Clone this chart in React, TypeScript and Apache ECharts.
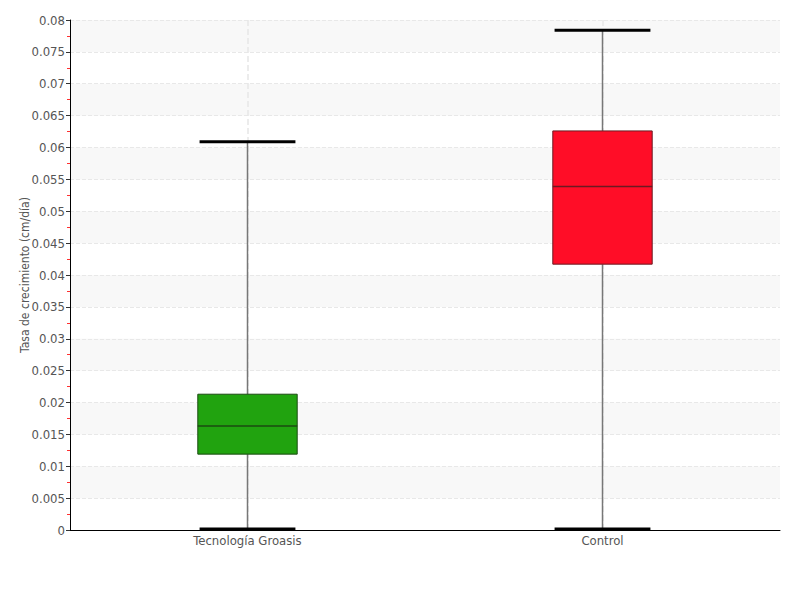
import React, { useEffect, useRef } from "react";
import * as echarts from "echarts";

const categories = ["Tecnología Groasis", "Control"];
// [min, Q1, median, Q3, max]
const boxValues = [
  [0.00015, 0.0119, 0.0163, 0.0213, 0.0609],
  [0.00015, 0.0417, 0.0539, 0.0626, 0.0784],
];
const boxColors = ["#21a30f", "#ff0d27"];
const boxBorders = ["#1b4a12", "#6b1a22"];

export default function App() {
  const ref = useRef<HTMLDivElement>(null);
  useEffect(() => {
    if (!ref.current) return;
    const chart = echarts.init(ref.current, null, { renderer: "svg" });
    const font = "'DejaVu Sans Condensed', 'Liberation Sans Narrow', sans-serif";
    chart.setOption({
      animation: false,
      grid: { left: 70, right: 20, top: 20, bottom: 70 },
      xAxis: {
        type: "category",
        data: categories,
        axisLine: { lineStyle: { color: "#000", width: 1 } },
        axisTick: { show: false, alignWithLabel: true },
        axisLabel: { color: "#555", fontSize: 13, fontFamily: font, margin: 4 },
        splitLine: { show: true, alignWithLabel: true, lineStyle: { color: "#e6e6e6", type: "dashed", width: 1.5 } },
      },
      yAxis: {
        type: "value",
        min: 0,
        max: 0.08,
        interval: 0.005,
        name: "Tasa de crecimiento (cm/día)",
        nameLocation: "middle",
        nameGap: 39,
        nameMoveOverlap: false,
        nameTextStyle: { color: "#555", fontSize: 12, fontFamily: font },
        axisLine: { show: true, lineStyle: { color: "#000", width: 1 } },
        axisTick: { show: true, length: 4, lineStyle: { color: "#333" } },
        minorTick: { show: true, splitNumber: 2, length: 3, lineStyle: { color: "#ff3030" } },
        axisLabel: { color: "#555", fontSize: 13, fontFamily: font, margin: 5 },
        splitLine: { show: true, lineStyle: { color: "#e8e8e8", type: "dashed", width: 1 } },
        splitArea: { show: true, areaStyle: { color: ["rgba(255,255,255,0)", "#f8f8f8"] } },
      },
      series: [
        {
          type: "custom",
          data: boxValues.map((v, i) => [i, ...v]),
          encode: { x: 0, y: [1, 2, 3, 4, 5] },
          renderItem: (params: any, api: any) => {
            const i = api.value(0);
            const mn = api.coord([i, api.value(1)]);
            const q1 = api.coord([i, api.value(2)]);
            const md = api.coord([i, api.value(3)]);
            const q3 = api.coord([i, api.value(4)]);
            const mx = api.coord([i, api.value(5)]);
            const bw = api.size([1, 0])[0];
            const half = bw * 0.14;
            const capHalf = bw * 0.135;
            const cx = mn[0];
            return {
              type: "group",
              children: [
                { type: "line", shape: { x1: cx, y1: mx[1], x2: cx, y2: q3[1] }, style: { stroke: "#777", lineWidth: 1.5 } },
                { type: "line", shape: { x1: cx, y1: q1[1], x2: cx, y2: mn[1] }, style: { stroke: "#777", lineWidth: 1.5 } },
                { type: "rect", shape: { x: cx - half, y: q3[1], width: half * 2, height: q1[1] - q3[1] }, style: { fill: boxColors[i], stroke: boxBorders[i], lineWidth: 1 } },
                { type: "line", shape: { x1: cx - half, y1: md[1], x2: cx + half, y2: md[1] }, style: { stroke: boxBorders[i], lineWidth: 1.5 } },
                { type: "line", shape: { x1: cx - capHalf, y1: mx[1], x2: cx + capHalf, y2: mx[1] }, style: { stroke: "#000", lineWidth: 3 } },
                { type: "line", shape: { x1: cx - capHalf, y1: mn[1], x2: cx + capHalf, y2: mn[1] }, style: { stroke: "#000", lineWidth: 3 } },
              ],
            };
          },
        },
      ],
    });
    return () => chart.dispose();
  }, []);
  return <div ref={ref} style={{ position: "fixed", left: 0, top: 0, width: 800, height: 600, background: "#fff" }} />;
}
